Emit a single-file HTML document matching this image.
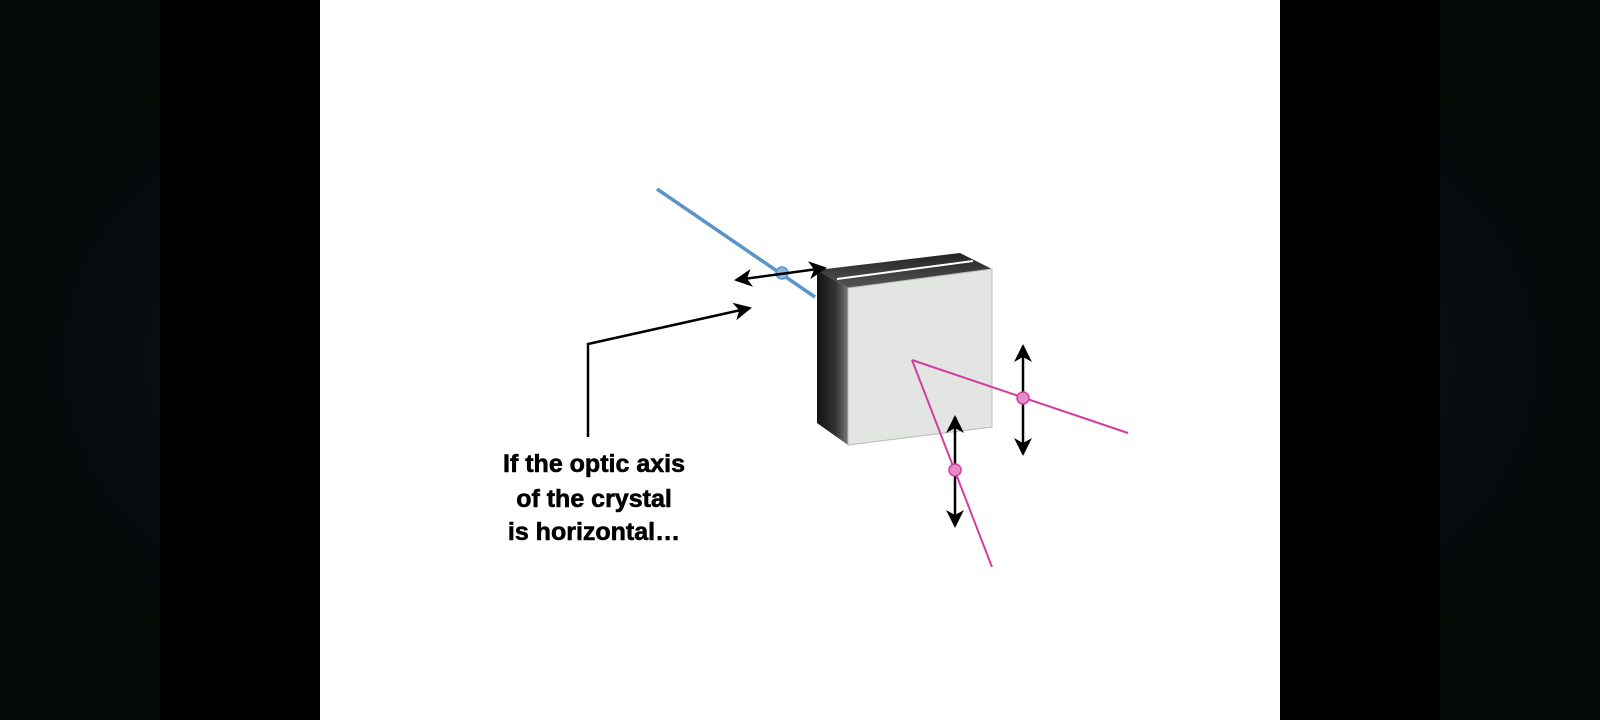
<!DOCTYPE html>
<html><head><meta charset="utf-8"><style>
html,body{margin:0;padding:0;width:1600px;height:720px;overflow:hidden;background:#000}
svg{display:block}
</style></head><body>
<svg width="1600" height="720" viewBox="0 0 1600 720">
<defs>
<radialGradient id="bgl" cx="300" cy="360" r="300" gradientUnits="userSpaceOnUse">
<stop offset="0" stop-color="#0b0a0a"/><stop offset="0.35" stop-color="#081010"/><stop offset="0.6" stop-color="#080b10"/><stop offset="1" stop-color="#060a07"/></radialGradient>
<radialGradient id="bgr" cx="1300" cy="360" r="300" gradientUnits="userSpaceOnUse">
<stop offset="0" stop-color="#0b0a0a"/><stop offset="0.35" stop-color="#081010"/><stop offset="0.6" stop-color="#080b10"/><stop offset="1" stop-color="#060a07"/></radialGradient>
<linearGradient id="side" x1="0" x2="1" y1="0" y2="0"><stop offset="0" stop-color="#111"/><stop offset="0.6" stop-color="#333"/><stop offset="1" stop-color="#777"/></linearGradient>
<linearGradient id="top" x1="0" x2="0" y1="0" y2="1"><stop offset="0" stop-color="#222"/><stop offset="1" stop-color="#555"/></linearGradient>
<marker id="ah2" markerWidth="18" markerHeight="18" refX="16" refY="9" orient="auto-start-reverse" markerUnits="userSpaceOnUse"><path d="M0,0 L18,9 L0,18 L5,9 Z" fill="#000"/></marker>
</defs>
<rect x="0" y="0" width="160" height="720" fill="url(#bgl)"/>
<rect x="1440" y="0" width="160" height="720" fill="url(#bgr)"/>
<rect x="320" y="0" width="960" height="720" fill="#fff"/>
<line x1="657" y1="189" x2="815" y2="297" stroke="#5b94c6" stroke-width="3.5"/>
<polygon points="817,270 848,288 848,445 817,423" fill="url(#side)"/>
<polygon points="817,270 960,253 992,269 848,288" fill="url(#top)"/>
<line x1="837" y1="279" x2="973" y2="261" stroke="#fff" stroke-width="2"/>
<polygon points="848,288 992,269 992,427 848,445" fill="#e3e5e3" stroke="#bbb" stroke-width="1"/>
<circle cx="782" cy="273" r="6" fill="#8fb8dc" stroke="#5b94c6" stroke-width="1.5"/>
<line x1="736" y1="280" x2="825" y2="268" stroke="#000" stroke-width="2.5" marker-start="url(#ah2)" marker-end="url(#ah2)"/>
<polyline points="588,437 588,344 750,308" fill="none" stroke="#000" stroke-width="2.5" marker-end="url(#ah2)"/>
<line x1="912" y1="360" x2="1128" y2="433" stroke="#d63b9f" stroke-width="2"/>
<line x1="912" y1="360" x2="992" y2="567" stroke="#d63b9f" stroke-width="2"/>
<line x1="1023" y1="346" x2="1023" y2="454" stroke="#000" stroke-width="2.5" marker-start="url(#ah2)" marker-end="url(#ah2)"/>
<line x1="955" y1="417" x2="955" y2="526" stroke="#000" stroke-width="2.5" marker-start="url(#ah2)" marker-end="url(#ah2)"/>
<circle cx="1023" cy="398" r="6" fill="#e88cc8" stroke="#d63b9f" stroke-width="1.5"/>
<circle cx="955" cy="470" r="6" fill="#e88cc8" stroke="#d63b9f" stroke-width="1.5"/>
<g font-family="Liberation Sans, sans-serif" font-weight="bold" font-size="25" text-anchor="middle" fill="#000" stroke="#000" stroke-width="0.6">
<text x="594" y="472">If the optic axis</text>
<text x="594" y="507">of the crystal</text>
<text x="594" y="540">is horizontal…</text>
</g>
</svg>
</body></html>
